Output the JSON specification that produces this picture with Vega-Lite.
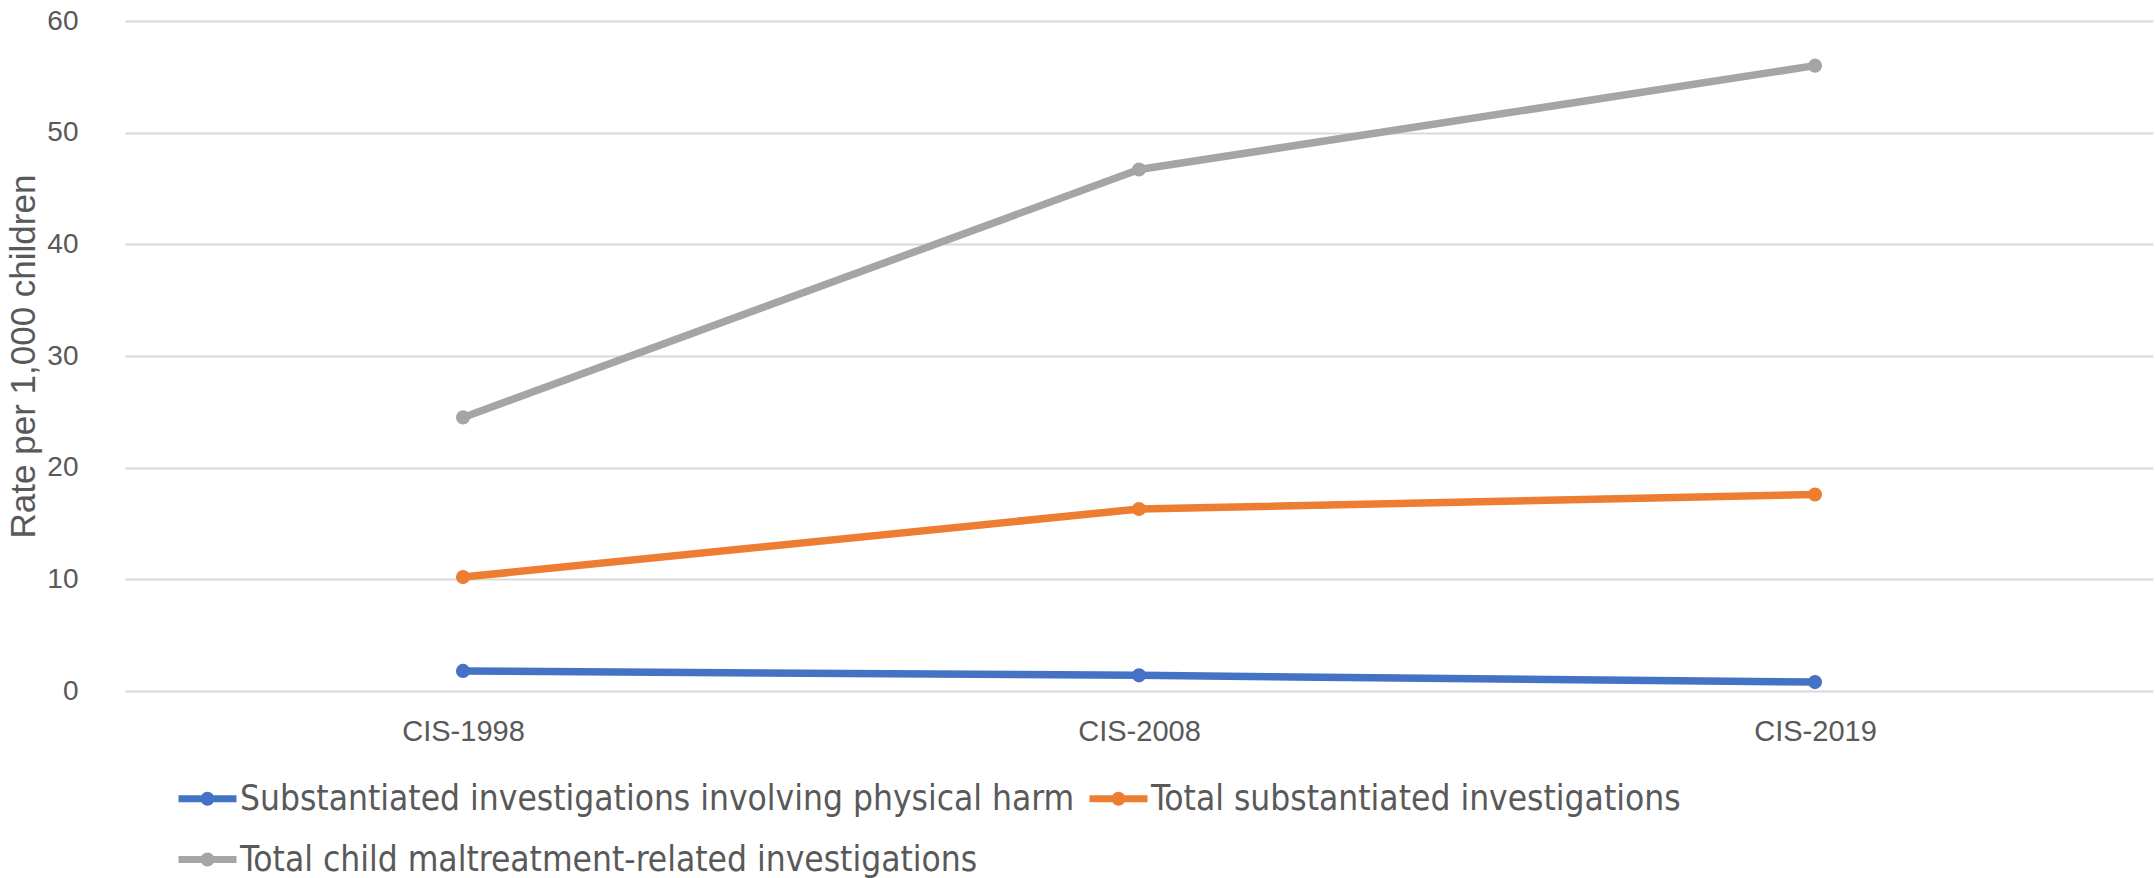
{
  "$schema": "https://vega.github.io/schema/vega-lite/v6.json",
  "width": 2028,
  "height": 670,
  "padding": {"left": 125, "top": 21, "right": 2, "bottom": 187},
  "autosize": {"type": "none"},
  "background": "white",
  "config": {"view": {"stroke": null}},
  "data": {"values": [
    {"study": "CIS-1998", "series": "Substantiated investigations involving physical harm", "rate": 1.8},
    {"study": "CIS-2008", "series": "Substantiated investigations involving physical harm", "rate": 1.4},
    {"study": "CIS-2019", "series": "Substantiated investigations involving physical harm", "rate": 0.8},
    {"study": "CIS-1998", "series": "Total substantiated investigations", "rate": 10.2},
    {"study": "CIS-2008", "series": "Total substantiated investigations", "rate": 16.3},
    {"study": "CIS-2019", "series": "Total substantiated investigations", "rate": 17.6},
    {"study": "CIS-1998", "series": "Total child maltreatment-related investigations", "rate": 24.5},
    {"study": "CIS-2008", "series": "Total child maltreatment-related investigations", "rate": 46.7},
    {"study": "CIS-2019", "series": "Total child maltreatment-related investigations", "rate": 56.0}
  ]},
  "encoding": {
    "x": {"field": "study", "type": "nominal", "scale": {"paddingInner": 0, "paddingOuter": 0},
      "axis": {"title": null, "labelAngle": 0, "labelFont": "Liberation Sans", "labelFontSize": 29, "labelColor": "#595959", "domain": false, "ticks": false, "labelPadding": 26, "grid": false}},
    "y": {"field": "rate", "type": "quantitative", "scale": {"domain": [0, 60]},
      "axis": {"title": "Rate per 1,000 children", "titleFont": "Liberation Sans", "titleFontSize": 35, "titleFontWeight": "normal", "titleColor": "#595959", "titlePadding": 5,
        "values": [0, 10, 20, 30, 40, 50, 60], "labelFont": "Liberation Sans", "labelFontSize": 28, "labelColor": "#595959", "labelPadding": 47,
        "domain": false, "ticks": false, "gridColor": "#d9d9d9", "gridWidth": 2}},
    "color": {"field": "series", "type": "nominal",
      "sort": ["Substantiated investigations involving physical harm", "Total substantiated investigations", "Total child maltreatment-related investigations"],
      "scale": {"range": ["#4472c4", "#ed7d31", "#a5a5a5"]},
      "legend": {"orient": "none", "legendX": 50, "legendY": 745, "direction": "horizontal", "columns": 2, "title": null, "padding": 0,
        "labelFont": "'DejaVu Sans Condensed', 'Liberation Sans'", "labelFontSize": 35, "labelColor": "#595959",
        "symbolType": "M-1,0L1,0M-0.12,0A0.12,0.12,0,1,1,0.12,0A0.12,0.12,0,1,1,-0.12,0",
        "symbolStrokeWidth": 7, "symbolSize": 3364, "symbolOpacity": 1, "columnPadding": 0, "rowPadding": 10, "labelLimit": 1200, "labelOffset": 0}}
  },
  "layer": [
    {"mark": {"type": "line", "strokeWidth": 7.5, "strokeCap": "round", "strokeJoin": "round"}},
    {"mark": {"type": "point", "shape": "circle", "filled": true, "size": 200, "opacity": 1}}
  ]
}
